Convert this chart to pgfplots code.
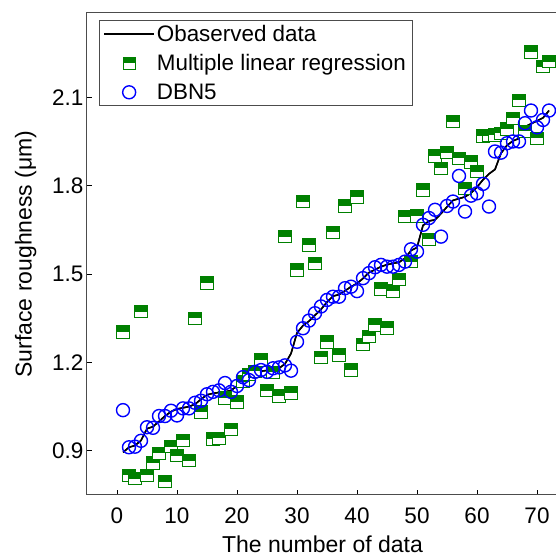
\documentclass[border=0pt]{standalone}
\usepackage{pgfplots}
\pgfplotsset{compat=1.18}
\usepackage{fontspec}
\setmainfont{Liberation Sans}
\definecolor{mlgreen}{RGB}{0,128,0}
\definecolor{mlblue}{RGB}{0,0,255}
\pgfdeclareplotmark{halfsq}{%
  \pgfpathrectangle{\pgfpoint{-\pgfplotmarksize}{-\pgfplotmarksize}}{\pgfpoint{2\pgfplotmarksize}{2\pgfplotmarksize}}%
  \pgfsetfillcolor{white}\pgfusepathqfill
  \pgfpathrectangle{\pgfpoint{-\pgfplotmarksize}{0pt}}{\pgfpoint{2\pgfplotmarksize}{\pgfplotmarksize}}%
  \pgfsetfillcolor{mlgreen}\pgfusepathqfill
  \pgfpathrectangle{\pgfpoint{-\pgfplotmarksize}{-\pgfplotmarksize}}{\pgfpoint{2\pgfplotmarksize}{2\pgfplotmarksize}}%
  \pgfusepathqstroke
}
\pgfplotsset{
  lineleg/.style={legend image code/.code={\draw[##1] (0pt,0pt) -- (50pt,0pt);}},
  markleg/.style={legend image code/.code={\path (0pt,0pt) (50pt,0pt); \draw[##1] plot coordinates {(25pt,0pt)};}},
}
\pgfplotstableread{
x y
1 0.895
2 0.912
3 0.918
4 0.935
5 0.975
6 0.982
7 1.000
8 1.018
9 1.033
10 1.042
11 1.046
12 1.050
13 1.058
14 1.075
15 1.090
16 1.095
17 1.098
18 1.100
19 1.105
20 1.120
21 1.140
22 1.152
23 1.165
24 1.170
25 1.173
26 1.176
27 1.180
28 1.195
29 1.230
30 1.300
31 1.325
32 1.340
33 1.360
34 1.380
35 1.405
36 1.425
37 1.430
38 1.443
39 1.457
40 1.468
41 1.485
42 1.505
43 1.515
44 1.525
45 1.532
46 1.536
47 1.540
48 1.553
49 1.580
50 1.590
51 1.665
52 1.680
53 1.684
54 1.705
55 1.728
56 1.750
57 1.756
58 1.762
59 1.775
60 1.795
61 1.820
62 1.840
63 1.855
64 1.910
65 1.937
66 1.952
67 1.960
68 2.000
69 2.010
70 2.020
71 2.030
72 2.055
}\observed
\pgfplotstableread{
x y
1 1.304
2 0.817
3 0.806
4 1.372
5 0.817
6 0.859
7 0.891
8 0.795
9 0.914
10 0.884
11 0.935
12 0.867
13 1.350
14 1.032
15 1.470
16 0.940
17 0.942
18 1.080
19 0.973
20 1.066
21 1.135
22 1.160
23 1.170
24 1.209
25 1.104
26 1.166
27 1.086
28 1.627
29 1.097
30 1.514
31 1.746
32 1.599
33 1.536
34 1.217
35 1.270
36 1.641
37 1.225
38 1.731
39 1.175
40 1.761
41 1.262
42 1.288
43 1.327
44 1.450
45 1.317
46 1.442
47 1.481
48 1.695
49 1.542
50 1.697
51 1.786
52 1.618
53 1.901
54 1.859
55 1.912
56 2.017
57 1.893
58 1.790
59 1.880
60 1.848
61 1.969
62 1.970
63 1.972
64 1.978
65 1.992
66 2.029
67 2.089
68 1.984
69 2.254
70 1.961
71 2.204
72 2.221
}\mlr
\pgfplotstableread{
x y
1 1.038
2 0.912
3 0.914
4 0.934
5 0.980
6 0.978
7 1.018
8 1.018
9 1.036
10 1.020
11 1.044
12 1.044
13 1.063
14 1.070
15 1.092
16 1.100
17 1.105
18 1.130
19 1.100
20 1.120
21 1.150
22 1.140
23 1.168
24 1.174
25 1.168
26 1.180
27 1.183
28 1.190
29 1.172
30 1.270
31 1.316
32 1.342
33 1.367
34 1.390
35 1.412
36 1.423
37 1.423
38 1.452
39 1.457
40 1.442
41 1.486
42 1.503
43 1.523
44 1.531
45 1.525
46 1.525
47 1.531
48 1.542
49 1.584
50 1.576
51 1.667
52 1.690
53 1.718
54 1.627
55 1.731
56 1.746
57 1.833
58 1.712
59 1.766
60 1.774
61 1.806
62 1.729
63 1.916
64 1.912
65 1.944
66 1.950
67 1.950
68 2.012
69 2.055
70 1.998
71 2.023
72 2.055
}\dbn
\begin{document}
\begin{tikzpicture}
\begin{axis}[
  width=471pt, height=482pt, scale only axis,
  xmin=-5, xmax=73.5, ymin=0.75, ymax=2.386,
  xtick={0,10,...,70}, ytick={0.9,1.2,1.5,1.8,2.1},
  yticklabel style={/pgf/number format/.cd, fixed, fixed zerofill, precision=1},
  /pgf/number format/assume math mode=true,
  tick align=inside, xtick pos=bottom, ytick pos=left,
  major tick length=5pt,
  axis line style={line width=1pt, draw=black!70},
  tick style={line width=1pt, black},
  ticklabel style={font=\fontsize{22.5}{27}\selectfont},
  xticklabel style={yshift=-9pt},
  label style={font=\fontsize{23}{28}\selectfont},
  xlabel={The number of data},
  ylabel={Surface roughness (μm)},
  xlabel shift=6pt, ylabel shift=9pt,
  legend style={at={(0.0255,0.9855)}, anchor=north west, draw=black!70, line width=0.8pt,
    font=\fontsize{22.4}{26}\selectfont, inner xsep=4pt, inner ysep=3pt, row sep=7.5pt,
    cells={anchor=west}},
  legend cell align=left,
]
\addplot[black, line width=1.5pt, lineleg] table[x=x,y=y] {\observed};
\addlegendentry{Obaserved data}
\addplot[only marks, mark=halfsq, mark size=6.2pt, draw=mlgreen, line width=0.9pt, markleg] table[x=x,y=y] {\mlr};
\addlegendentry{Multiple linear regression}
\addplot[only marks, mark=o, mark size=6.5pt, draw=mlblue, line width=1.4pt, markleg] table[x=x,y=y] {\dbn};
\addlegendentry{DBN5}
\addplot[black, line width=1.5pt, forget plot] table[x=x,y=y] {\observed};
\end{axis}
\pgfresetboundingbox
\path[use as bounding box] ([xshift=-87pt,yshift=-64pt]current axis.south west) rectangle ([xshift=469pt,yshift=13pt]current axis.north west);
\end{tikzpicture}
\end{document}
